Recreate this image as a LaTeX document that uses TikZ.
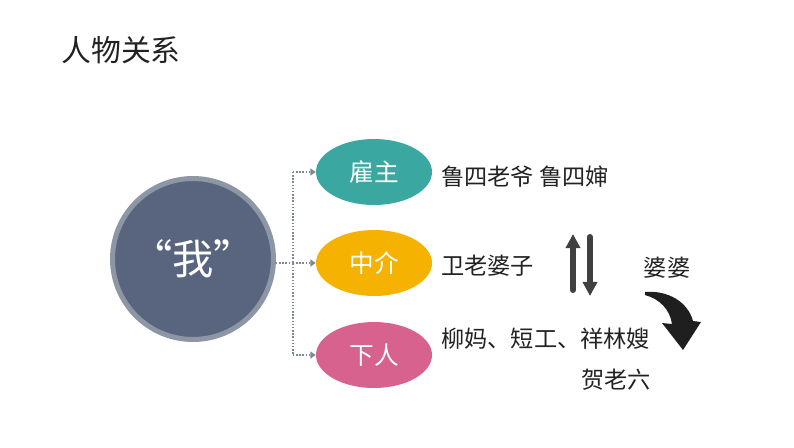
\documentclass[tikz,border=0pt]{standalone}
\usepackage{fontspec}
\setmainfont{Noto Sans CJK SC}
\usetikzlibrary{shapes.geometric,arrows.meta}

\definecolor{slate}{RGB}{89,101,127}
\definecolor{ring}{RGB}{140,150,165}
\definecolor{teal}{RGB}{58,168,160}
\definecolor{amber}{RGB}{246,178,0}
\definecolor{rose}{RGB}{216,98,142}
\definecolor{ink}{RGB}{34,34,34}
\definecolor{darrow}{RGB}{64,64,64}

\tikzset{
  role/.style={ellipse, minimum width=2.32cm, minimum height=1.32cm, inner sep=0pt,
    text=white, font=\fontsize{14}{16}\selectfont},
  txt/.style={inner sep=0pt, text=ink, font=\fontsize{13.2}{16}\selectfont},
  link/.style={ring!90!black, densely dotted, thick},
  linkarrow/.style={link, -{Triangle[width=4pt,length=3pt]}},
  updown/.style={darrow, line width=3.4pt, line cap=round, -{Triangle[width=8pt,length=8pt]}}
}

\begin{document}
\begin{tikzpicture}[x=0.02cm, y=-0.02cm]
	\useasboundingbox (0,0) rectangle (794,447);
	\node[txt, anchor=west, font=\fontsize{17}{20}\selectfont] (title) at (61,50) {人物关系};
	% centre and the three roles
	\node[circle, fill=slate, draw=ring, line width=0.1cm, minimum size=3.22cm,
	  text=white, font=\fontsize{23.5}{26}\selectfont] (wo) at (193,259) {“我”};
	\node[role, fill=teal] (gz) at (374,172) {雇主};
	\node[role, fill=amber] (zj) at (374,263) {中介};
	\node[role, fill=rose] (xr) at (374,355) {下人};
	\coordinate (br) at (293,263);
	\draw[link] (wo.east |- br) -- (br);
	\draw[link] (br |- gz) -- (br |- xr);
	\draw[linkarrow] (br |- gz) -- (gz.west);
	\draw[linkarrow] (br) -- (zj.west);
	\draw[linkarrow] (br |- xr) -- (xr.west);
	% names
	\node[txt, anchor=west] (lu) at (441,177) {鲁四老爷\ 鲁四婶};
	\node[txt, anchor=west] (wei) at (441,266) {卫老婆子};
	\node[txt, anchor=west] (liu) at (441,339) {柳妈、短工、祥林嫂};
	\node[txt] (he) at (616,380) {贺老六};
	\node[txt] (popo) at (667,268) {婆婆};
	% up and down arrows
	\draw[updown] (573,290) -- (573,234);
	\draw[updown] (590,237) -- (590,296);
	% curved arrow
	\fill[black!88] (645,292) .. controls (668,290) and (688,302) .. (693,321)
	  -- (701,322) -- (683,350) -- (662,323) -- (672,324)
	  .. controls (670,310) and (660,299) .. (645,295) -- cycle;
\end{tikzpicture}
\end{document}
